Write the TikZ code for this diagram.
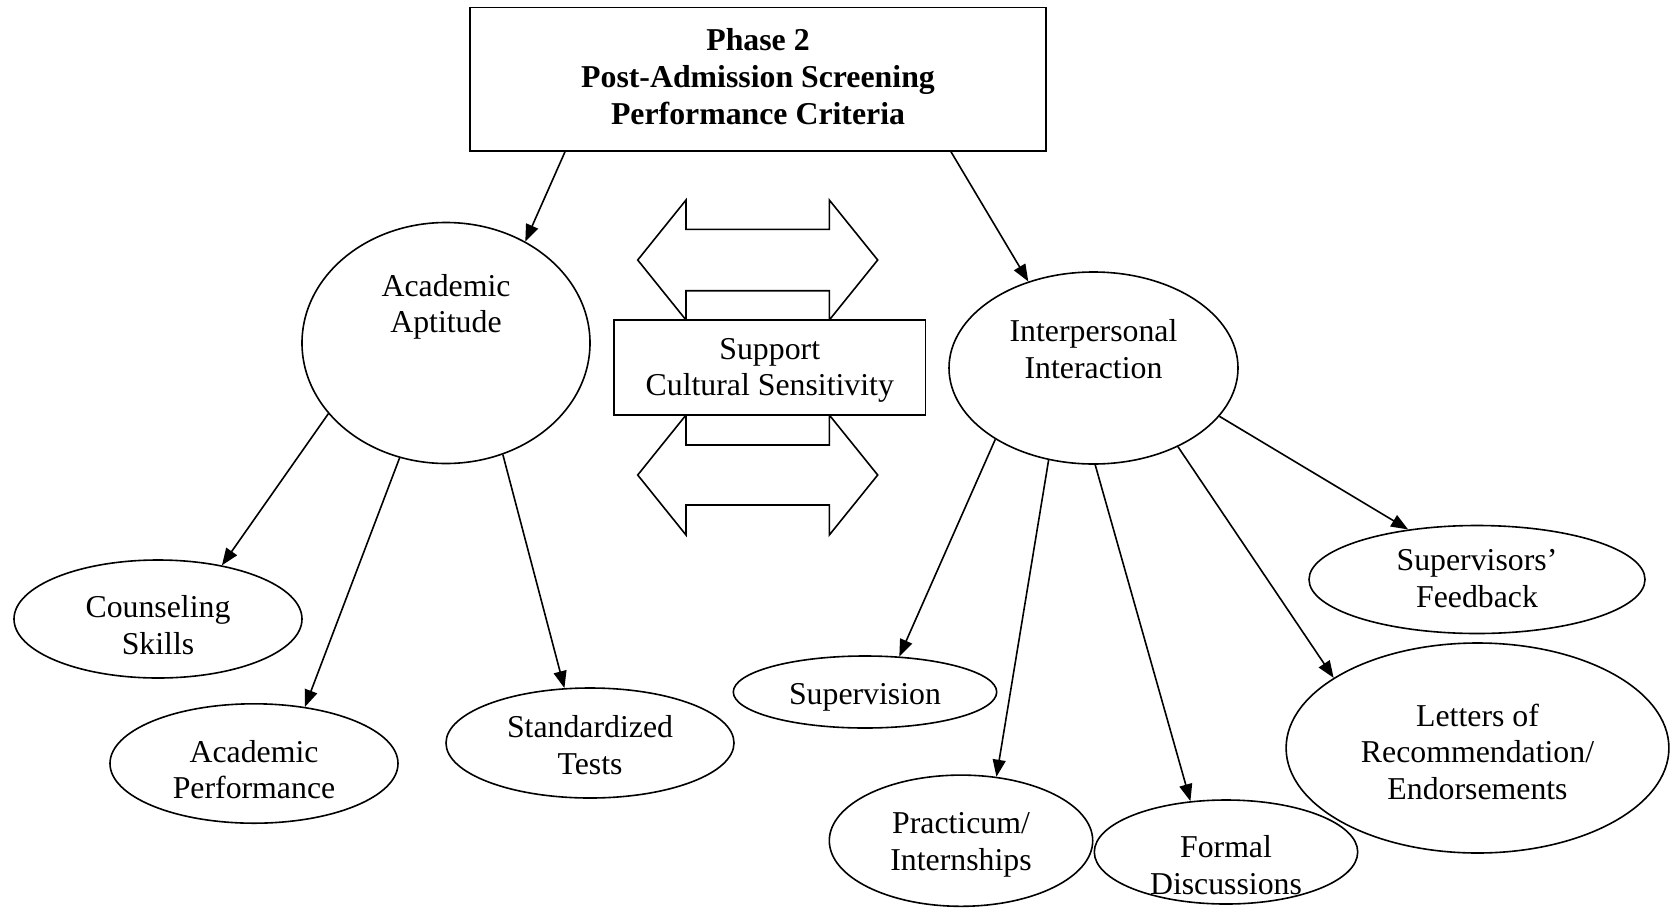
\documentclass[tikz,border=0pt]{standalone}
\usepackage{fontspec}
\setmainfont{Liberation Serif}
\usetikzlibrary{shapes.geometric,arrows.meta}
\tikzset{
  ln/.style={line width=1.6pt},
  txt/.style={align=center, font=\fontsize{31.8}{36.5}\selectfont, inner sep=0pt},
  oval/.style 2 args={ellipse, draw, ln, minimum width=#1, minimum height=#2, inner sep=0pt},
  boxn/.style={draw, ln, fill=white, inner sep=0pt},
  arr/.style={ln, -{Triangle[length=17pt,width=13pt]}},
  blockarrow/.style={draw, ln, fill=white, line join=miter}
}
\begin{document}
\begin{tikzpicture}[x=1pt,y=-1pt]
\useasboundingbox (0,0) rectangle (1672,921);

% block arrows
\draw[blockarrow] (637.7,260) -- (686,200) -- (686,229.3) -- (829.3,229.3) -- (829.3,200) -- (877.7,260) -- (829.3,320) -- (829.3,290.7) -- (686,290.7) -- (686,320) -- cycle;
\draw[blockarrow] (637.7,475) -- (686,415) -- (686,445) -- (829.3,445) -- (829.3,415) -- (877.7,475) -- (829.3,535) -- (829.3,505) -- (686,505) -- (686,535) -- cycle;

% top box
\node[boxn, minimum width=576, minimum height=143.5,
  label={[txt, font=\fontsize{31.8}{37}\selectfont\bfseries, yshift=3pt]center:{Phase 2\\Post-Admission Screening\\Performance Criteria}}] (top) at (758,79.25) {};

% support box
\node[boxn, minimum width=311.5, minimum height=95,
  label={[txt, yshift=-3pt]center:{Support\\Cultural Sensitivity}}] (sup) at (769.75,367.5) {};

% main ellipses
\node[oval={288}{241}, label={[txt, yshift=36pt]center:{Academic\\Aptitude}}] (aa) at (446,343) {};
\node[oval={289}{192}, label={[txt, yshift=19pt]center:{Interpersonal\\Interaction}}] (ii) at (1093.5,368) {};

% left children
\node[oval={288}{118}, label={[txt, yshift=-6pt]center:{Counseling\\Skills}}] (cs) at (158,619) {};
\node[oval={288}{119.4}, label={[txt, yshift=-6pt]center:{Academic\\Performance}}] (ap) at (254,763.5) {};
\node[oval={288}{110}, label={[txt, yshift=-2pt]center:{Standardized\\Tests}}] (st) at (590,743) {};

% right children
\node[oval={263.4}{72}, label={[txt, yshift=-5pt]center:{Supervision}}] (sv) at (865,692) {};
\node[oval={263.4}{131.2}, label={[txt, yshift=-4pt]center:{Practicum/\\Internships}}] (pr) at (961,840.7) {};
\node[oval={263.4}{104}, label={[txt, yshift=-13pt]center:{Formal\\Discussions}}] (fd) at (1226,852) {};
\node[oval={336}{108}, label={[txt, yshift=1pt]center:{Supervisors’\\Feedback}}] (sf) at (1477,579.5) {};
\node[oval={382.8}{210}, label={[txt, yshift=-3.5pt]center:{Letters of\\Recommendation/\\Endorsements}}] (lr) at (1477.5,748) {};

% connectors
\draw[arr] ([xshift=-193pt]top.south) -- (aa.52.6);
\draw[arr] ([xshift=193pt]top.south) -- (ii.127.2);
\draw[arr] (aa.211.8) -- (cs.40.4);
\draw[arr] (aa.-112.2) -- (ap.48.8);
\draw[arr] (aa.-63.3) -- (st.115.7);
\draw[arr] (ii.216.9) -- (sv.46.8);
\draw[arr] (ii.-116.3) -- (pr.61.7);
\draw[arr] (ii.-89) -- (fd.125.6);
\draw[arr] (ii.-43.9) -- (lr.154.3);
\draw[arr] (ii.-21.6) -- (sf.144.2);
\end{tikzpicture}
\end{document}
